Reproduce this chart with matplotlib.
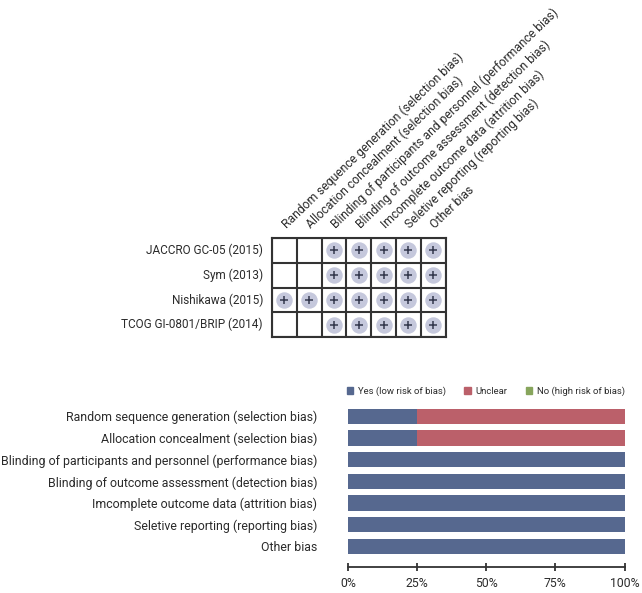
import matplotlib
matplotlib.use('Agg')
import matplotlib.pyplot as plt
from matplotlib.patches import Patch

W, H = 642, 593

plt.rcParams['font.family'] = ['Roboto', 'DejaVu Sans']

domains = ['Random sequence generation (selection bias)',
           'Allocation concealment (selection bias)',
           'Blinding of participants and personnel (performance bias)',
           'Blinding of outcome assessment (detection bias)',
           'Imcomplete outcome data (attrition bias)',
           'Seletive reporting (reporting bias)',
           'Other bias']
studies = ['JACCRO GC-05 (2015)', 'Sym (2013)', 'Nishikawa (2015)', 'TCOG GI-0801/BRIP (2014)']

# 1 = low risk (+), 0 = unclear (blank)
judgements = [[0, 0, 1, 1, 1, 1, 1],
              [0, 0, 1, 1, 1, 1, 1],
              [1, 1, 1, 1, 1, 1, 1],
              [0, 0, 1, 1, 1, 1, 1]]

yes_pct = [25, 25, 100, 100, 100, 100, 100]
unclear_pct = [75, 75, 0, 0, 0, 0, 0]
no_pct = [0, 0, 0, 0, 0, 0, 0]
pct_ticks = [0, 25, 50, 75, 100]

text_color = '#2b2b2b'
blue = '#56688f'
red = '#bb606a'
green = '#87a55c'


def box(x0, y0, x1, y1):
    return [x0 / W, 1 - y1 / H, (x1 - x0) / W, (y1 - y0) / H]


fig = plt.figure(figsize=(W / 100, H / 100), dpi=100)

# risk of bias summary
ax = fig.add_axes(box(272, 238, 445.5, 337))
ax.set_xlim(0, len(domains))
ax.set_ylim(len(studies), 0)
ax.set_xticks(range(len(domains) + 1))
ax.set_yticks(range(len(studies) + 1))
ax.grid(color='#333333', linewidth=1.5)
ax.tick_params(length=0, labelbottom=False, labelleft=False)
ax.set_axisbelow(True)
for s in ax.spines.values():
    s.set_color('#333333')
    s.set_linewidth(1.5)

for r, row in enumerate(judgements):
    for c, val in enumerate(row):
        if val == 1:
            ax.scatter(c + 0.5, r + 0.5, s=140, color='#c5c8dc', linewidths=0, zorder=3)
            ax.scatter(c + 0.5, r + 0.5, s=30, marker='+', color='#33384d', linewidths=1.1, zorder=4)

for r, name in enumerate(studies):
    ax.annotate(name, (0, r + 0.5), xytext=(-6.5, 0), textcoords='offset points',
                ha='right', va='center', fontsize=8.5, color=text_color)

for c, name in enumerate(domains):
    ax.annotate(name, (c + 0.5, 0), xytext=(3, 5), textcoords='offset points',
                ha='left', va='bottom', rotation=44, rotation_mode='anchor',
                fontsize=8.7, color=text_color)

# risk of bias graph
ax2 = fig.add_axes(box(348, 405, 624.5, 567))
ypos = list(range(len(domains)))
ax2.barh(ypos, yes_pct, height=0.7, color=blue, label='Yes (low risk of bias)')
ax2.barh(ypos, unclear_pct, left=yes_pct, height=0.7, color=red, label='Unclear')
ax2.barh(ypos, no_pct, left=[a + b for a, b in zip(yes_pct, unclear_pct)], height=0.7, color=green,
         label='No (high risk of bias)')
ax2.set_xlim(0, 100)
ax2.set_ylim(6.95, -0.52)
ax2.set_yticks(ypos)
ax2.set_yticklabels(domains, fontsize=8.88, color=text_color)
ax2.tick_params(axis='y', length=0, pad=22)
ax2.set_xticks(pct_ticks)
ax2.set_xticklabels([f'{t}%' for t in pct_ticks], fontsize=8.8, color=text_color)
ax2.tick_params(axis='x', direction='inout', length=5.8, width=1.3, color='#333333', pad=4)
for side in ['top', 'left', 'right']:
    ax2.spines[side].set_visible(False)
ax2.spines['bottom'].set_color('#333333')
ax2.spines['bottom'].set_linewidth(1.3)

handles = [Patch(color=blue, label='Yes (low risk of bias)'),
           Patch(color=red, label='Unclear'),
           Patch(color=green, label='No (high risk of bias)')]
fig.legend(handles=handles, ncol=3, frameon=False, fontsize=6.8,
           loc='center right', bbox_to_anchor=(625 / W, 1 - 391 / H),
           handlelength=0.65, handleheight=0.7, handletextpad=0.5, columnspacing=2.0,
           labelcolor=text_color, borderpad=0, borderaxespad=0)

fig.savefig('out.png', dpi=100)
